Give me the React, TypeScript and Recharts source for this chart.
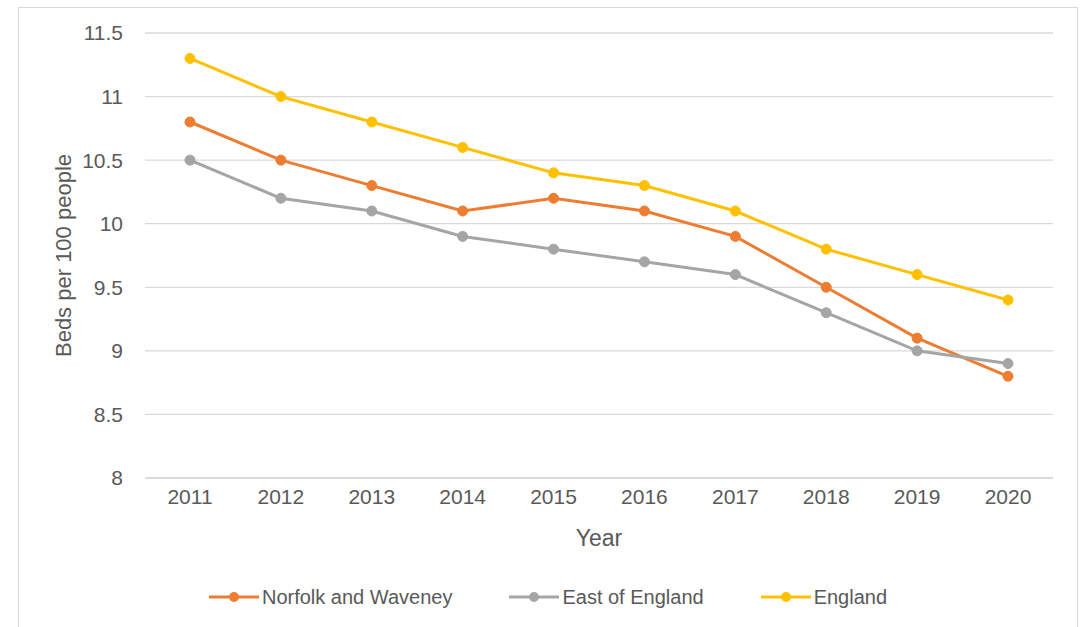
import React from "react";
import { CartesianGrid, Label, Legend, Line, LineChart, XAxis, YAxis } from "recharts";

const years = ["2011", "2012", "2013", "2014", "2015", "2016", "2017", "2018", "2019", "2020"];
const norfolk = [10.8, 10.5, 10.3, 10.1, 10.2, 10.1, 9.9, 9.5, 9.1, 8.8];
const eastOfEngland = [10.5, 10.2, 10.1, 9.9, 9.8, 9.7, 9.6, 9.3, 9.0, 8.9];
const england = [11.3, 11.0, 10.8, 10.6, 10.4, 10.3, 10.1, 9.8, 9.6, 9.4];
const yTicks = [8, 8.5, 9, 9.5, 10, 10.5, 11, 11.5];

const series = [
  { key: "norfolk", name: "Norfolk and Waveney", color: "#ED7D31" },
  { key: "east", name: "East of England", color: "#A5A5A5" },
  { key: "england", name: "England", color: "#FFC000" },
];

const data = years.map((year, i) => ({
  year,
  norfolk: norfolk[i],
  east: eastOfEngland[i],
  england: england[i],
}));

const FONT = "'Liberation Sans', Arial, sans-serif";
const TEXT = "#595959";

// legend drawn in series order (recharts would sort it by name)
const LegendContent: React.FC<any> = () => (
  <div style={{ display: "flex", justifyContent: "center", alignItems: "center", height: 36 }}>
    {series.map((s, i) => (
      <div
        key={s.key}
        style={{ display: "flex", alignItems: "center", marginRight: i < series.length - 1 ? 57 : 0 }}
      >
        <svg width={50} height={14} style={{ marginRight: 3 }}>
          <line x1={0} y1={7} x2={50} y2={7} stroke={s.color} strokeWidth={3} />
          <circle cx={25} cy={7} r={5} fill={s.color} />
        </svg>
        <span style={{ fontFamily: FONT, fontSize: 20, color: TEXT }}>{s.name}</span>
      </div>
    ))}
  </div>
);

const YTitle: React.FC<any> = ({ viewBox }) => {
  const cx = viewBox.x + 63;
  const cy = viewBox.y + viewBox.height / 2;
  return (
    <text
      x={cx}
      y={cy}
      transform={`rotate(-90, ${cx}, ${cy})`}
      textAnchor="middle"
      dominantBaseline="central"
      fontFamily={FONT}
      fontSize={22}
      fill={TEXT}
    >
      Beds per 100 people
    </text>
  );
};

export default function App() {
  return (
    <div style={{ position: "absolute", left: 0, top: 0, width: 1086, height: 627, overflow: "hidden", background: "#fff" }}>
      <div
        style={{
          position: "absolute",
          left: 18,
          top: 7,
          width: 1060,
          height: 660,
          border: "1px solid #d9d9d9",
          boxSizing: "border-box",
        }}
      />
      <LineChart
        width={1086}
        height={627}
        data={data}
        margin={{ top: 33, right: 33, bottom: 12, left: 0 }}
        style={{ position: "absolute", left: 0, top: 0 }}
      >
        <CartesianGrid vertical={false} stroke="#d9d9d9" strokeWidth={1.3} />
        <XAxis
          dataKey="year"
          height={101}
          padding={{ left: 45, right: 45 }}
          tickLine={false}
          axisLine={{ stroke: "#d9d9d9", strokeWidth: 1.3 }}
          tickMargin={5}
          tick={{ fill: TEXT, fontSize: 21, fontFamily: FONT }}
        >
          <Label
            value="Year"
            position="insideBottom"
            offset={33}
            style={{ fill: TEXT, fontSize: 23, fontFamily: FONT }}
          />
        </XAxis>
        <YAxis
          width={145}
          domain={[8, 11.5]}
          ticks={yTicks}
          axisLine={false}
          tickLine={false}
          tickMargin={16}
          tick={{ fill: TEXT, fontSize: 21, fontFamily: FONT }}
          label={<YTitle />}
        />
        <Legend
          verticalAlign="bottom"
          height={36}
          wrapperStyle={{ left: 18, width: 1060 }}
          content={<LegendContent />}
        />
        {series.map((s) => (
          <Line
            key={s.key}
            type="linear"
            dataKey={s.key}
            name={s.name}
            stroke={s.color}
            strokeWidth={3}
            dot={{ r: 5, fill: s.color, stroke: s.color, strokeWidth: 1 }}
            isAnimationActive={false}
          />
        ))}
      </LineChart>
    </div>
  );
}
